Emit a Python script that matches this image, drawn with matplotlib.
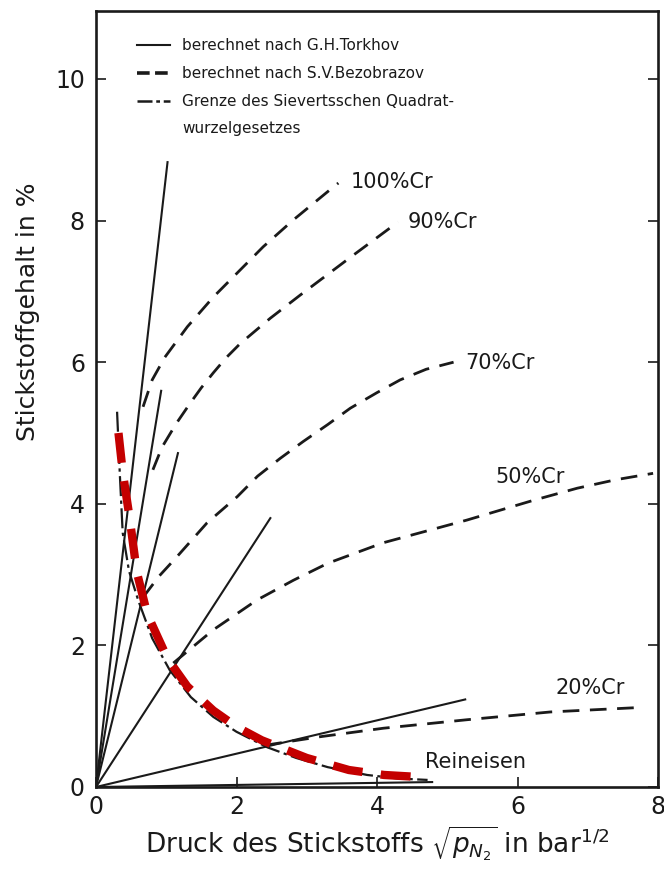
import matplotlib
matplotlib.use("Agg")
import matplotlib.pyplot as plt
from matplotlib.lines import Line2D

plt.rcParams['font.family'] = ['DejaVu Sans']

# Torkhov: straight lines from the origin, (x_end, y_end)
torkhov_labels = ["100%Cr", "90%Cr", "70%Cr", "50%Cr", "20%Cr", "Reineisen"]
torkhov_x_end = [1.02, 0.93, 1.17, 2.49, 5.27, 4.80]
torkhov_y_end = [8.84, 5.61, 4.73, 3.81, 1.24, 0.07]

# Bezobrazov curves
bez_100_x = [0.67, 0.80, 0.98, 1.30, 1.67, 2.01, 2.38, 2.81, 3.30, 3.45]
bez_100_y = [5.37, 5.75, 6.07, 6.50, 6.92, 7.26, 7.63, 8.01, 8.41, 8.53]
bez_90_x = [0.81, 0.94, 1.14, 1.34, 1.50, 1.67, 1.85, 2.05, 2.48, 2.91, 3.62, 4.30]
bez_90_y = [4.48, 4.80, 5.13, 5.42, 5.64, 5.85, 6.06, 6.26, 6.62, 6.95, 7.48, 7.98]
bez_70_x = [0.67, 0.90, 1.15, 1.58, 2.01, 2.30, 2.62, 2.95, 3.30, 3.62, 4.00, 4.33, 4.70, 5.09]
bez_70_y = [2.68, 2.98, 3.25, 3.73, 4.10, 4.39, 4.64, 4.88, 5.12, 5.35, 5.57, 5.75, 5.90, 6.00]
bez_50_x = [1.10, 1.67, 2.29, 2.81, 3.30, 4.09, 5.28, 6.23, 6.85, 7.40, 7.93]
bez_50_y = [1.75, 2.22, 2.64, 2.92, 3.16, 3.45, 3.77, 4.05, 4.22, 4.34, 4.43]
bez_20_x = [2.41, 3.19, 4.09, 5.28, 6.47, 7.68]
bez_20_y = [0.59, 0.71, 0.83, 0.95, 1.06, 1.12]

# Limit of Sieverts' square-root law
sieverts_x = [0.30, 0.34, 0.38, 0.47, 0.60, 0.80, 1.05, 1.35, 1.67, 2.00, 2.44, 2.85, 3.30, 3.86, 4.30, 4.72]
sieverts_y = [5.30, 4.40, 3.59, 3.05, 2.64, 2.10, 1.65, 1.27, 0.99, 0.78, 0.56, 0.41, 0.28, 0.17, 0.12, 0.10]

# Highlighted boundary curve (red)
red_x = [0.32, 0.38, 0.48, 0.58, 0.73, 1.02, 1.30, 1.67, 2.00, 2.36, 3.00, 3.60, 4.10, 4.62]
red_y = [5.00, 4.45, 3.79, 3.04, 2.44, 1.81, 1.42, 1.08, 0.85, 0.66, 0.41, 0.24, 0.17, 0.14]

# Curve labels
label_text = ["100%Cr", "90%Cr", "70%Cr", "50%Cr", "20%Cr", "Reineisen"]
label_x = [3.62, 4.44, 5.26, 5.68, 6.54, 4.69]
label_y = [8.55, 7.98, 5.99, 4.38, 1.40, 0.35]

xticks = [0, 2, 4, 6, 8]
yticks = [0, 2, 4, 6, 8, 10]

ink = '#1a1a1a'

fig = plt.figure(figsize=(6.64, 8.77), dpi=100)
ax = fig.add_axes([96 / 664, 1 - 787 / 877, 562 / 664, 776 / 877])
ax.set_xlim(0, 8)
ax.set_ylim(0, 10.96)

# Torkhov lines
for xe, ye in zip(torkhov_x_end, torkhov_y_end):
    ax.plot([0, xe], [0, ye], color=ink, lw=1.5, solid_capstyle='butt')

# Bezobrazov dashed curves
bez_dash = (6.0, 3.8)
for xs, ys in [(bez_100_x, bez_100_y), (bez_90_x, bez_90_y), (bez_70_x, bez_70_y),
               (bez_50_x, bez_50_y), (bez_20_x, bez_20_y)]:
    ax.plot(xs, ys, color=ink, lw=2.0, dashes=bez_dash, dash_capstyle='butt',
            dash_joinstyle='round')

# Sieverts limit (dash-dot)
ax.plot(sieverts_x, sieverts_y, color=ink, lw=1.6, dashes=(9, 2, 1.5, 2),
        dash_joinstyle='round')

# Red highlighted curve
ax.plot(red_x, red_y, color='#c40000', lw=6.0, dashes=(3.6, 2.2),
        dash_capstyle='butt', dash_joinstyle='round')

for t, x, y in zip(label_text, label_x, label_y):
    ax.text(x, y, t, fontsize=15, color=ink, ha='left', va='center')

# Legend drawn in axes coordinates
legend_rows = [
    ("berechnet nach G.H.Torkhov", dict(lw=1.5), 0.956),
    ("berechnet nach S.V.Bezobrazov", dict(lw=2.6, dashes=(3.5, 1.5)), 0.920),
    ("Grenze des Sievertsschen Quadrat-", dict(lw=1.8, dashes=(6, 1.5, 1.5, 1.5)), 0.884),
    ("wurzelgesetzes", None, 0.848),
]
for text, style, yy in legend_rows:
    if style is not None:
        ax.add_line(Line2D([0.073, 0.132], [yy, yy], color=ink,
                           transform=ax.transAxes, **style))
    ax.text(0.153, yy, text, transform=ax.transAxes, fontsize=11,
            color=ink, ha='left', va='center')

for s in ax.spines.values():
    s.set_linewidth(1.9)
    s.set_color(ink)

ax.set_xticks(xticks)
ax.set_yticks(yticks)
ax.tick_params(direction='in', length=7, width=1.2, colors=ink,
               labelsize=17, right=True, top=False)
ax.tick_params(axis='y', pad=8)
ax.tick_params(axis='x', pad=6)

ax.set_xlabel(r'Druck des Stickstoffs $\sqrt{p_{N_2}}$ in bar$^{1/2}$',
              fontsize=19, color=ink, labelpad=4)
ax.set_ylabel('Stickstoffgehalt in %', fontsize=18, color=ink)
ax.yaxis.set_label_coords(-0.100, 0.613)

fig.savefig('out.png', dpi=100)
